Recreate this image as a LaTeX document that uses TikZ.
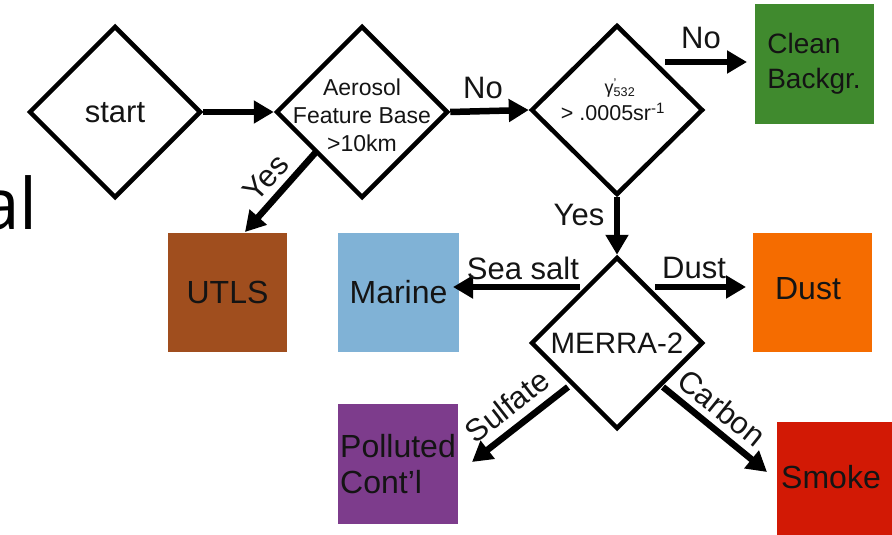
\documentclass[tikz,border=0pt]{standalone}
\usepackage{fontspec}
\setmainfont{Liberation Sans}
\newfontfamily\slidefont{Open Sans}
\usetikzlibrary{arrows.meta,shapes.geometric}
\definecolor{cgreen}{RGB}{64,138,46}
\definecolor{cbrown}{RGB}{160,78,30}
\definecolor{cblue}{RGB}{128,178,214}
\definecolor{corange}{RGB}{245,108,0}
\definecolor{cpurple}{RGB}{125,60,140}
\definecolor{cred}{RGB}{210,25,5}
\definecolor{txt}{RGB}{20,20,20}
\begin{document}
\begin{tikzpicture}[x=1pt,y=-1pt,
  dia/.style={shape=diamond, draw=black, line width=4.5pt, minimum width=172pt, minimum height=172pt, inner sep=0pt, aspect=1},
  box/.style={minimum width=119pt, minimum height=119pt, inner sep=0pt, text=txt, align=left},
  boxfont/.style={font=\fontsize{32}{36}\selectfont},
  arr/.style={line width=6.5pt, draw=black, -{Triangle[length=20pt,width=22pt]}},
  lab/.style={font=\fontsize{31}{36}\selectfont, inner sep=0pt, text=txt},
  dtxt/.style={inner sep=0pt, text=txt, align=center},
]
\useasboundingbox (0,0) rectangle (892,535);
\clip (0,0) rectangle (892,535);

% slide text behind
\node[anchor=base east, inner sep=0pt, text=black] (al) at (38,229) {\slidefont\fontsize{71}{80}\selectfont al};

% decision diamonds
\node[dia] (d1) at (115,112) {};
\node[dia] (d2) at (362,112) {};
\node[dia, minimum height=170pt] (d3) at (617,110) {};
\node[dia] (d4) at (617,343) {};

\node[dtxt, font=\fontsize{31}{36}\selectfont] (d1t) at (115,113) {start};
\node[dtxt, font=\fontsize{23}{28}\selectfont] (d2t) at (362,115) {Aerosol\\Feature Base\\>10km};
\node[dtxt, font=\fontsize{18}{20}\selectfont] (d3a) at (620,88) {γ\rlap{\textsuperscript{'}}\textsubscript{532}};
\node[dtxt, font=\fontsize{21.5}{24}\selectfont] (d3b) at (613,112) {> .0005sr\textsuperscript{-1}};
\node[dtxt, font=\fontsize{29.5}{34}\selectfont] (d4t) at (617,343) {MERRA-2};

% result boxes
\node[box, fill=cgreen, minimum height=120pt, font=\fontsize{28}{35}\selectfont] (clean) at (814,64) {Clean\\Backgr.};
\node[box, fill=cbrown, boxfont] (utls) at (227.5,292.5) {UTLS};
\node[box, fill=cblue, boxfont, minimum width=121pt] (marine) at (398.5,292.5) {Marine};
\node[box, fill=corange, boxfont] (dust) at (812,292.5) {};
\node[box, fill=cpurple, boxfont, minimum width=120pt, minimum height=120pt] (poll) at (398,464) {Polluted\\Cont'l};
\node[box, fill=cred] (smoke) at (836,481) {};
\node[dtxt, boxfont] (dustt) at (808,289) {Dust};
\node[dtxt, boxfont] (smoket) at (831,477) {Smoke};

% connector end points
\coordinate (n3s) at (665,62);
\coordinate (yss) at (316,152);
\coordinate (yse) at (245,232);
\coordinate (sss) at (580,287);
\coordinate (sse) at (453,287);
\coordinate (dss) at (655,287);
\coordinate (dse) at (746,287);
\coordinate (sus) at (568,387);
\coordinate (sue) at (472,462);
\coordinate (cas) at (663,387);
\coordinate (cae) at (767,472);
\coordinate (cle) at (747,62);

% connectors
\draw[arr] (d1.east) -- (d2.west);
\draw[arr] (d2.east) -- (d3.west);
\draw[arr] (n3s) -- (cle);
\draw[arr] (d3.south) -- (d4.north);
\draw[arr] (yss) -- (yse);
\draw[arr] (sss) -- (sse);
\draw[arr] (dss) -- (dse);
\draw[arr] (sus) -- (sue);
\draw[arr] (cas) -- (cae);

% connector labels
\node[lab] (l1) at (483,88) {No};
\node[lab] (l2) at (701,38) {No};
\node[lab] (l3) at (579,215) {Yes};
\node[lab] (l4) at (523,268) {Sea salt};
\node[lab] (l5) at (694,268) {Dust};
\node[lab, rotate=48] (l6) at (266,178) {Yes};
\node[lab, rotate=38] (l7) at (507,406) {Sulfate};
\node[lab, rotate=-39] (l8) at (722,408) {Carbon};
\end{tikzpicture}
\end{document}
